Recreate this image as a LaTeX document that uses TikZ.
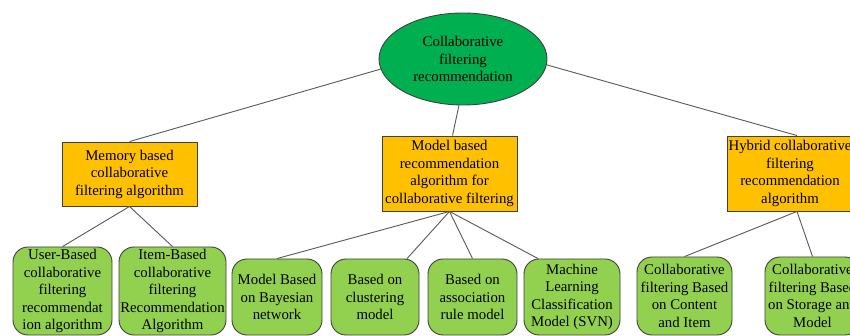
\documentclass[tikz,border=0pt]{standalone}
\usepackage{fontspec}
\setmainfont{Liberation Serif}
\usetikzlibrary{shapes.geometric}
\definecolor{ellgreen}{HTML}{00B050}
\definecolor{boxorange}{HTML}{FFC000}
\definecolor{leafgreen}{HTML}{92D050}
\definecolor{edgegray}{HTML}{404040}
\definecolor{linkgray}{HTML}{595959}
\tikzset{
  txt/.style={font=\fontsize{14.8}{17.5}\selectfont, align=center, text=black, inner sep=0pt},
  rootell/.style={txt, ellipse, draw=edgegray, line width=0.9pt, fill=ellgreen, minimum width=168pt, minimum height=92pt},
  midbox/.style={txt, rectangle, draw=edgegray, line width=0.9pt, fill=boxorange, minimum width=135pt, minimum height=#1},
  leafbox/.style={txt, rectangle, rounded corners=15pt, draw=edgegray, line width=0.9pt, fill=leafgreen},
  link/.style={draw=linkgray, line width=0.9pt}
}
\begin{document}
\begin{tikzpicture}[x=1pt,y=-1pt]
\clip (0,0) rectangle (850,336);
\fill[white] (0,0) rectangle (850,336);

% nodes
\node[rootell] (ell) at (463,59) {Collaborative\\filtering\\recommendation};

\node[midbox=64pt] (mem) at (129.5,174) {Memory based\\collaborative\\filtering algorithm};
\node[midbox=75pt] (mod) at (449.5,173.5) {Model based\\recommendation\\algorithm for\\collaborative filtering};
\node[midbox=75pt] (hyb) at (795,173.5) {};
\node[txt] (hybt) at (790,173.5) {Hybrid collaborative\\filtering\\recommendation\\algorithm};

\node[leafbox, minimum width=99pt, minimum height=88pt] (usr) at (62.5,291) {User-Based\\collaborative\\filtering\\recommendat\\ion algorithm};
\node[leafbox, minimum width=107pt, minimum height=88pt] (itm) at (172.5,291) {Item-Based\\collaborative\\filtering\\Recommendation\\Algorithm};
\node[leafbox, minimum width=90pt, minimum height=76pt] (bay) at (277,297) {Model Based\\on Bayesian\\network};
\node[leafbox, minimum width=88pt, minimum height=76pt] (clu) at (375,297) {Based on\\clustering\\model};
\node[leafbox, minimum width=89pt, minimum height=76pt] (ass) at (472.5,297) {Based on\\association\\rule model};
\node[leafbox, minimum width=96pt, minimum height=76pt] (mlc) at (572,297) {Machine\\Learning\\Classification\\Model (SVN)};
\node[leafbox, minimum width=95pt, minimum height=78pt] (con) at (684.5,296) {Collaborative\\filtering Based\\on Content\\and Item};
\node[leafbox, minimum width=95pt, minimum height=78pt] (sto) at (812.5,296) {Collaborative\\filtering Based\\on Storage and\\Model};

% connectors
\draw[link] (ell.187) -- (mem.north);
\draw[link] (ell.265) -- ([xshift=3pt]mod.north);
\draw[link] (ell.356) -- ([xshift=2pt]hyb.north);

\draw[link] (mem.south) -- (usr.north);
\draw[link] (mem.south) -- (itm.north);

\draw[link] (mod.south) -- (bay.north);
\draw[link] (mod.south) -- ([xshift=32pt]clu.north);
\draw[link] (mod.south) -- (ass.north);
\draw[link] (mod.south) -- ([xshift=-34pt]mlc.north);

\draw[link] ([xshift=2pt]hyb.south) -- (con.north);
\draw[link] ([xshift=2pt]hyb.south) -- (sto.north);
\end{tikzpicture}
\end{document}
